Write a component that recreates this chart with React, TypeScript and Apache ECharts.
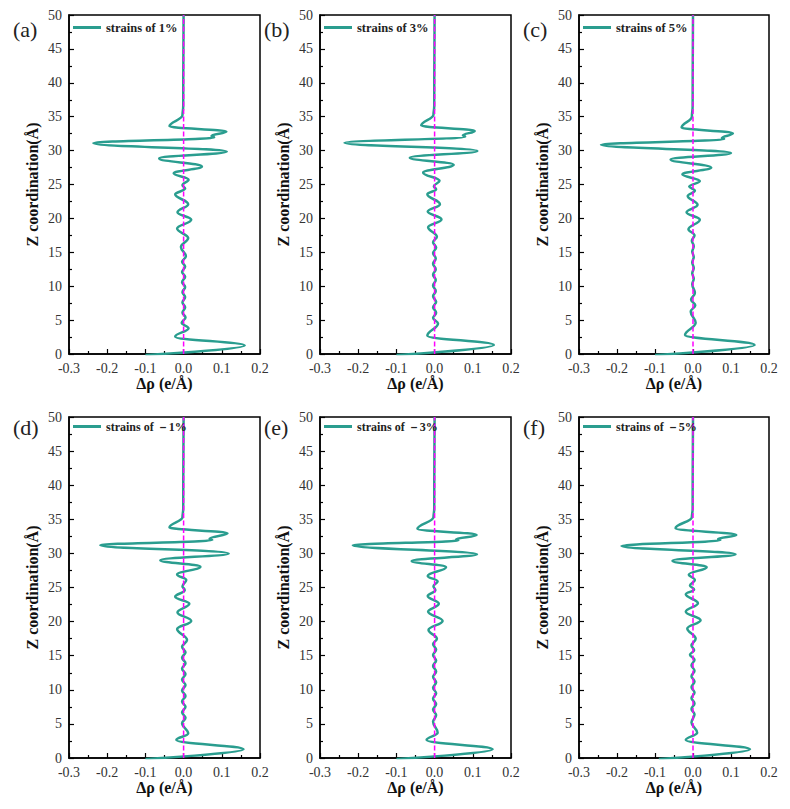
import React, { useEffect, useRef } from "react";
import * as echarts from "echarts";

// ---------- data ----------
const panelLabels = ["(a)", "(b)", "(c)", "(d)", "(e)", "(f)"];
const seriesNames = [
  "strains of 1%",
  "strains of 3%",
  "strains of 5%",
  "strains of －1%",
  "strains of －3%",
  "strains of －5%",
];
const xTicks = [-0.3, -0.2, -0.1, 0.0, 0.1, 0.2];
const yTicks = [0, 5, 10, 15, 20, 25, 30, 35, 40, 45, 50];
const zeroLine: [number, number][] = [[0, 0], [0, 50]];

// [Δρ, Z]
const strain1: [number, number][] = [
  [0.000, 50.0], [-0.001, 36.5], [-0.003, 35.2], [-0.037, 33.6], [0.112, 32.8],
  [0.073, 32.15], [0.080, 31.95], [-0.236, 31.1], [0.113, 29.85], [-0.064, 28.85],
  [0.048, 27.65], [-0.026, 26.65], [0.013, 25.7], [-0.003, 24.9], [0.004, 24.4],
  [-0.022, 23.55], [0.012, 22.1], [-0.016, 20.9], [0.020, 19.8], [-0.017, 18.5],
  [0.012, 17.1], [-0.007, 15.8], [0.006, 14.4], [-0.004, 13.6], [0.004, 12.9],
  [-0.004, 12.1], [0.004, 11.4], [-0.004, 10.6], [0.004, 9.9], [-0.003, 9.1],
  [0.004, 8.4], [-0.003, 7.6], [0.004, 6.9], [-0.003, 6.1], [0.005, 5.4],
  [-0.005, 4.6], [0.013, 3.8], [-0.022, 2.56], [0.160, 1.25], [-0.100, -0.15],
];
const strain3: [number, number][] = [
  [0.000, 50.0], [-0.001, 36.5], [-0.003, 35.3], [-0.035, 33.7], [0.105, 32.9],
  [0.074, 32.25], [0.080, 32.05], [-0.236, 31.15], [0.112, 29.95], [-0.065, 28.95],
  [0.050, 27.9], [-0.030, 26.75], [0.013, 25.55], [-0.002, 24.75], [0.004, 24.3],
  [-0.019, 23.55], [0.014, 22.1], [-0.018, 21.0], [0.018, 19.85], [-0.017, 18.7],
  [0.006, 17.3], [-0.004, 16.5], [0.004, 15.7], [-0.004, 14.9], [0.003, 14.1],
  [-0.004, 13.3], [0.003, 12.5], [-0.004, 11.7], [0.003, 10.9], [-0.004, 10.1],
  [0.003, 9.3], [-0.004, 8.5], [0.004, 7.7], [-0.004, 6.9], [0.004, 6.1],
  [-0.004, 5.3], [0.009, 4.5], [-0.019, 2.7], [0.155, 1.33], [-0.100, -0.15],
];
const strain5: [number, number][] = [
  [0.000, 50.0], [-0.001, 36.5], [-0.003, 35.0], [-0.030, 33.4], [0.105, 32.55],
  [0.076, 31.85], [0.082, 31.7], [-0.242, 30.85], [0.100, 29.65], [-0.059, 28.7],
  [0.048, 27.5], [-0.028, 26.5], [0.018, 25.5], [-0.010, 24.7], [0.005, 24.1],
  [-0.014, 23.3], [0.012, 22.0], [-0.017, 20.9], [0.018, 19.8], [-0.012, 18.4],
  [0.004, 17.5], [-0.003, 16.7], [0.002, 15.9], [-0.002, 15.1], [0.002, 14.3],
  [-0.002, 13.5], [0.002, 12.7], [-0.002, 11.9], [0.002, 11.1], [-0.002, 10.3],
  [0.005, 9.0], [-0.005, 8.0], [0.006, 7.2], [-0.006, 6.25], [0.007, 4.6],
  [-0.021, 2.8], [0.162, 1.33], [-0.100, -0.15],
];
const strainM1: [number, number][] = [
  [0.000, 50.0], [-0.001, 36.5], [-0.003, 35.3], [-0.037, 33.8], [0.115, 32.95],
  [0.068, 32.15], [0.075, 31.95], [-0.218, 31.2], [0.118, 30.0], [-0.061, 29.0],
  [0.044, 28.05], [-0.017, 26.9], [0.007, 26.1], [-0.003, 25.2], [0.003, 24.6],
  [-0.022, 23.65], [0.015, 22.6], [-0.016, 21.35], [0.020, 20.1], [-0.017, 18.9],
  [0.009, 17.3], [-0.004, 16.3], [0.005, 15.5], [-0.004, 14.7], [0.005, 13.9],
  [-0.004, 13.1], [0.005, 12.3], [-0.004, 11.5], [0.005, 10.7], [-0.004, 9.9],
  [0.005, 9.1], [-0.004, 8.3], [0.005, 7.5], [-0.004, 6.7], [0.005, 5.9],
  [-0.004, 5.1], [0.012, 3.6], [-0.019, 2.64], [0.157, 1.27], [-0.100, -0.15],
];
const strainM3: [number, number][] = [
  [0.000, 50.0], [-0.001, 36.5], [-0.003, 35.3], [-0.045, 33.6], [0.110, 32.7],
  [0.056, 32.05], [0.062, 31.9], [-0.214, 31.2], [0.111, 29.86], [-0.060, 28.9],
  [0.030, 27.97], [-0.018, 26.7], [0.008, 25.9], [-0.003, 25.2], [0.002, 24.6],
  [-0.018, 23.75], [0.011, 22.6], [-0.017, 21.45], [0.021, 20.1], [-0.016, 18.77],
  [0.006, 17.5], [-0.004, 16.7], [0.004, 15.9], [-0.004, 15.1], [0.004, 14.3],
  [-0.004, 13.5], [0.004, 12.7], [-0.004, 11.9], [0.004, 11.1], [-0.004, 10.3],
  [0.004, 9.5], [-0.004, 8.7], [0.004, 7.9], [-0.004, 7.1], [0.004, 6.3],
  [-0.004, 5.3], [0.008, 3.7], [-0.021, 2.64], [0.152, 1.27], [-0.100, -0.15],
];
const strainM5: [number, number][] = [
  [0.000, 50.0], [-0.001, 36.5], [-0.003, 35.3], [-0.046, 33.68], [0.114, 32.7],
  [0.066, 32.1], [0.072, 31.95], [-0.188, 31.08], [0.112, 29.86], [-0.054, 28.93],
  [0.036, 27.97], [-0.011, 26.9], [0.005, 26.1], [-0.008, 25.3], [0.003, 24.7],
  [-0.019, 24.0], [0.013, 22.7], [-0.019, 21.45], [0.020, 20.2], [-0.015, 19.0],
  [0.007, 17.5], [-0.004, 16.5], [0.003, 15.8], [-0.008, 15.15], [0.004, 14.4],
  [-0.004, 13.6], [0.004, 12.8], [-0.004, 12.0], [0.004, 11.2], [-0.004, 10.4],
  [0.004, 9.6], [-0.004, 8.8], [0.004, 8.0], [-0.004, 7.2], [0.004, 6.4],
  [-0.004, 5.2], [0.011, 3.7], [-0.019, 2.64], [0.150, 1.27], [-0.090, -0.15],
];
const panelData = [strain1, strain3, strain5, strainM1, strainM3, strainM5];

// ---------- layout / style ----------
const FONT = "'Liberation Serif', 'Times New Roman', Times, serif";
const TEAL = "#2A9D8F";
const MAGENTA = "#FF00FF";
const colLeft = [69, 320, 579];
const colWidth = [191, 191, 190];
const rowTop = [15, 417];
const rowHeight = [339, 341];

function buildOption() {
  const grid: any[] = [];
  const xAxis: any[] = [];
  const yAxis: any[] = [];
  const series: any[] = [];
  const legend: any[] = [];
  const graphic: any[] = [];

  panelData.forEach((data, i) => {
    const r = Math.floor(i / 3);
    const c = i % 3;
    const left = colLeft[c];
    const top = rowTop[r];
    grid.push({
      left,
      top,
      width: colWidth[c],
      height: rowHeight[r],
      show: true,
      borderColor: "#000",
      borderWidth: 1.5,
      backgroundColor: "transparent",
    });
    const tickCommon = {
      axisTick: { inside: true, length: 5, lineStyle: { color: "#000", width: 1.2 } },
      minorTick: { show: true, splitNumber: 2, length: 3, lineStyle: { color: "#000", width: 1.2 } },
      splitLine: { show: false },
      axisLine: { onZero: false, lineStyle: { color: "#000", width: 1.5 } },
    };
    xAxis.push({
      type: "value",
      gridIndex: i,
      min: xTicks[0],
      max: xTicks[xTicks.length - 1],
      interval: 0.1,
      name: "Δρ (e/Å)",
      nameLocation: "middle",
      nameGap: 21,
      nameTextStyle: { fontFamily: FONT, fontSize: 16, fontWeight: "bold", color: "#111" },
      axisLabel: {
        margin: 7,
        fontFamily: FONT,
        fontSize: 14,
        color: "#333",
        formatter: (v: number) => v.toFixed(1),
      },
      ...tickCommon,
    });
    yAxis.push({
      type: "value",
      gridIndex: i,
      min: yTicks[0],
      max: yTicks[yTicks.length - 1],
      interval: 5,
      name: "Z coordination(Å)",
      nameLocation: "middle",
      nameGap: 29,
      nameTextStyle: { fontFamily: FONT, fontSize: 16, fontWeight: "bold", color: "#111" },
      axisLabel: { margin: 7, fontFamily: FONT, fontSize: 14, color: "#333" },
      ...tickCommon,
    });
    series.push({
      type: "line",
      name: seriesNames[i],
      xAxisIndex: i,
      yAxisIndex: i,
      data,
      symbol: "none",
      smooth: 0.4,
      smoothMonotone: "y",
      clip: true,
      lineStyle: { color: TEAL, width: 2.5 },
      itemStyle: { color: TEAL },
      z: 2,
    });
    series.push({
      type: "line",
      name: "zero-" + i,
      xAxisIndex: i,
      yAxisIndex: i,
      data: zeroLine,
      symbol: "none",
      silent: true,
      lineStyle: { color: MAGENTA, width: 1.5, type: [5, 2.5] },
      z: 3,
    });
    legend.push({
      data: [seriesNames[i]],
      left: left + 4,
      top: top + (r === 0 ? 5 : 2),
      padding: 0,
      icon: "rect",
      itemWidth: 28,
      itemHeight: 3,
      itemStyle: { color: TEAL, borderWidth: 0 },
      selectedMode: false,
      textStyle: {
        fontFamily: FONT,
        fontSize: r === 0 ? 12.5 : 12,
        fontWeight: "bold",
        color: "#222",
        lineHeight: 15,
      },
    });
    graphic.push({
      type: "text",
      left: left - 56,
      top: top + (r === 0 ? 3 : -1),
      style: { text: panelLabels[i], fontFamily: FONT, fontSize: 22, fill: "#222" },
    });
  });

  return {
    animation: false,
    backgroundColor: "#fff",
    grid,
    xAxis,
    yAxis,
    series,
    legend,
    graphic,
  };
}

export default function App() {
  const ref = useRef<HTMLDivElement>(null);
  useEffect(() => {
    if (!ref.current) return;
    const chart = echarts.init(ref.current, undefined, { renderer: "svg" });
    chart.setOption(buildOption());
    return () => chart.dispose();
  }, []);
  return (
    <div
      ref={ref}
      style={{ position: "fixed", left: 0, top: 0, width: 790, height: 809, background: "#fff" }}
    />
  );
}
